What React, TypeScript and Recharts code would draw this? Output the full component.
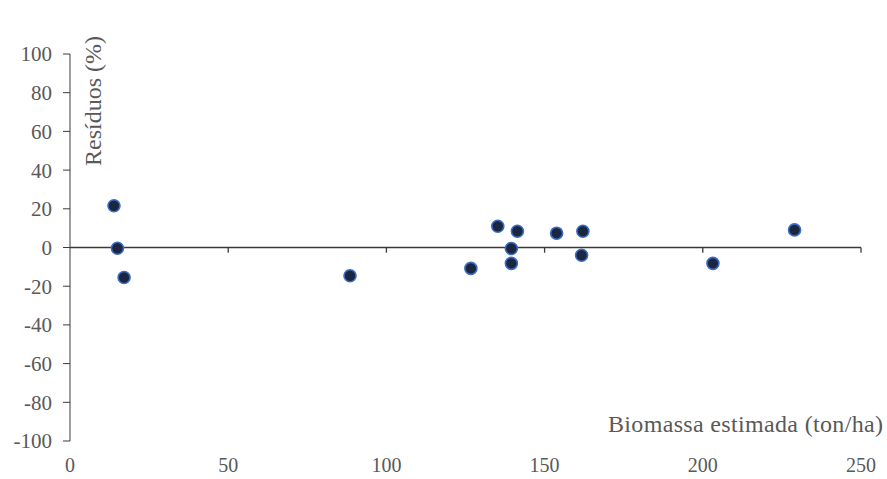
import { ScatterChart, Scatter, XAxis, YAxis, ReferenceLine } from 'recharts';

// biomassa estimada (ton/ha) vs residuos (%)
const biomassa = [13.9, 15.0, 17.1, 88.5, 126.7, 135.2, 141.4, 139.5, 139.5, 153.8, 162.1, 161.7, 203.2, 229.0];
const residuos = [21.6, -0.4, -15.5, -14.6, -10.8, 11.0, 8.4, -0.5, -8.2, 7.4, 8.4, -4.0, -8.2, 9.1];

const xTicks = [0, 50, 100, 150, 200, 250];
const yTicks = [-100, -80, -60, -40, -20, 0, 20, 40, 60, 80, 100];

const data = biomassa.map((x, i) => ({ x, y: residuos[i] }));

const FONT = '"Liberation Serif", "Times New Roman", serif';
const TEXT = '#595959';
const AXIS = '#3a3a3a';

const Dot = (props: any) => {
  const { cx, cy } = props;
  return <circle cx={cx} cy={cy} r={6} fill="#1b2740" stroke="#3d6cc4" strokeWidth={1.6} />;
};

export default function App() {
  return (
    <div style={{ position: 'absolute', left: 0, top: 0, background: '#fff' }}>
      <ScatterChart width={887} height={479} margin={{ top: 54, right: 26, bottom: 0, left: 10 }}>
        <XAxis
          type="number"
          dataKey="x"
          domain={[0, 250]}
          ticks={xTicks}
          axisLine={false}
          tickLine={false}
          tickSize={0}
          tickMargin={17}
          height={38}
          tick={{ fill: TEXT, fontSize: 20, fontFamily: FONT }}
          label={{
            content: ({ viewBox }: any) => (
              <text
                x={viewBox.x + viewBox.width + 22}
                y={viewBox.y - 9}
                textAnchor="end"
                fill={TEXT}
                fontSize={24}
                fontFamily={FONT}
                textLength={275}
              >
                Biomassa estimada (ton/ha)
              </text>
            ),
          }}
        />
        <YAxis
          type="number"
          dataKey="y"
          domain={[-100, 100]}
          ticks={yTicks}
          width={60}
          stroke={AXIS}
          tickSize={7}
          tickMargin={11}
          tick={{ fill: TEXT, fontSize: 21, fontFamily: FONT }}
          label={{
            content: ({ viewBox }: any) => {
              const cx = viewBox.x + viewBox.width + 23;
              const cy = viewBox.y + 47;
              return (
                <text
                  x={cx}
                  y={cy}
                  transform={`rotate(-90 ${cx} ${cy})`}
                  textAnchor="middle"
                  dominantBaseline="central"
                  fill={TEXT}
                  fontSize={24}
                  fontFamily={FONT}
                >
                  Resíduos (%)
                </text>
              );
            },
          }}
        />
        <ReferenceLine y={0} stroke={AXIS} strokeWidth={1.3} />
        {xTicks.slice(1).map((t) => (
          <ReferenceLine
            key={t}
            segment={[{ x: t, y: 0 }, { x: t, y: -2.7 }]}
            stroke={AXIS}
            strokeWidth={1.3}
          />
        ))}
        <Scatter data={data} shape={<Dot />} isAnimationActive={false} />
      </ScatterChart>
    </div>
  );
}
